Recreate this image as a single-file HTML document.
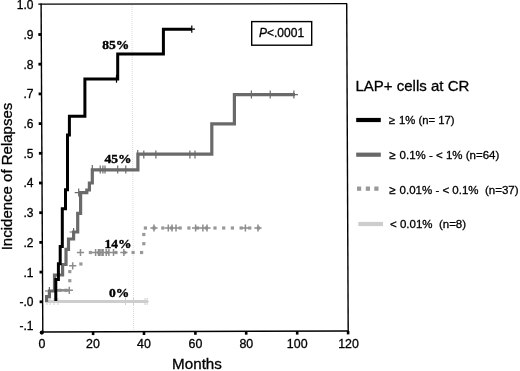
<!DOCTYPE html>
<html><head><meta charset="utf-8">
<style>
html,body{margin:0;padding:0;background:#fff;}
body{width:520px;height:371px;overflow:hidden;}
svg{display:block;will-change:transform;filter:blur(0.35px);}
text{font-family:"Liberation Sans",sans-serif;fill:#000;stroke:#000;stroke-width:0.3px;}
.b{font-family:"Liberation Serif",serif;font-weight:bold;font-size:13.5px;fill:#000;stroke:#000;stroke-width:0.4px;}
.t{font-size:12.4px;}
</style></head><body>
<svg width="520" height="371" viewBox="0 0 520 371">
<rect width="520" height="371" fill="#fff"/>
<!-- reference dotted line at 36 months -->
<line x1="131.9" y1="5" x2="133.6" y2="331" stroke="#dcdcdc" stroke-width="1" stroke-dasharray="1 1"/>
<!-- frame -->
<g stroke="#000" fill="none">
<line x1="41.1" y1="3.6" x2="42.8" y2="332.6" stroke-width="1.4"/>
<line x1="38.3" y1="4.2" x2="347" y2="3.6" stroke-width="1.3"/>
<line x1="346.7" y1="3.2" x2="348.2" y2="331.6" stroke-width="1.4"/>
<line x1="41.5" y1="331.9" x2="348.4" y2="331.0" stroke-width="1.5"/>
</g>
<!-- y ticks -->
<g stroke="#000" stroke-width="2.8">
<line x1="38.3" x2="41.6" y1="34.5" y2="34.5"/>
<line x1="38.4" x2="41.7" y1="64.2" y2="64.2"/>
<line x1="38.6" x2="41.9" y1="93.9" y2="93.9"/>
<line x1="38.7" x2="42.0" y1="123.6" y2="123.6"/>
<line x1="38.9" x2="42.2" y1="153.3" y2="153.3"/>
<line x1="39.0" x2="42.3" y1="183.0" y2="183.0"/>
<line x1="39.2" x2="42.5" y1="212.7" y2="212.7"/>
<line x1="39.3" x2="42.6" y1="242.4" y2="242.4"/>
<line x1="39.5" x2="42.8" y1="272.1" y2="272.1"/>
<line x1="39.6" x2="42.9" y1="301.8" y2="301.8"/>
</g>
<circle cx="41.8" cy="332.6" r="2.1" fill="#000"/>
<!-- x ticks -->
<g stroke="#000" stroke-width="2.6">
<line x1="93.1" x2="93.1" y1="331.7" y2="335.1"/>
<line x1="144.0" x2="144.0" y1="331.6" y2="335.0"/>
<line x1="195.4" x2="195.4" y1="331.4" y2="334.8"/>
<line x1="246.2" x2="246.2" y1="331.3" y2="334.7"/>
<line x1="297.2" x2="297.2" y1="331.2" y2="334.6"/>
<line x1="348.1" x2="348.1" y1="331.0" y2="334.4"/>
</g>
<!-- y labels -->
<g class="t" text-anchor="end" style="font-size:12px">
<text x="33.5" y="9.3">1.0</text>
<text x="33.5" y="38.9">.9</text>
<text x="33.5" y="68.6">.8</text>
<text x="33.5" y="98.3">.7</text>
<text x="33.5" y="128.0">.6</text>
<text x="33.5" y="157.7">.5</text>
<text x="33.5" y="187.4">.4</text>
<text x="33.5" y="217.1">.3</text>
<text x="33.5" y="246.8">.2</text>
<text x="33.5" y="276.5">.1</text>
<text x="33.5" y="306.2">-.0</text>
<text x="33.5" y="329.6">-.1</text>
</g>
<!-- x labels -->
<g class="t" text-anchor="middle">
<text x="42" y="347.7">0</text>
<text x="93" y="347.7">20</text>
<text x="144" y="347.7">40</text>
<text x="195.5" y="347.7">60</text>
<text x="246.3" y="347.7">80</text>
<text x="297.2" y="347.7">100</text>
<text x="348.5" y="347.7">120</text>
</g>
<text x="197" y="368.8" text-anchor="middle" font-size="15.2">Months</text>
<text transform="translate(12.3,176.5) rotate(-90)" text-anchor="middle" font-size="15">Incidence of Relapses</text>

<!-- light gray (<0.01%) -->
<line x1="45" y1="301.5" x2="147.8" y2="301.5" stroke="#cdcdcd" stroke-width="3"/>
<g stroke="#cfcfcf" stroke-width="1">
<line x1="47" x2="47" y1="298" y2="305"/><line x1="50" x2="50" y1="298" y2="305"/><line x1="54" x2="54" y1="298" y2="305"/><line x1="58" x2="58" y1="298" y2="305"/>
<line x1="125.5" x2="125.5" y1="298" y2="305"/><line x1="133.5" x2="133.5" y1="298" y2="305"/><line x1="145" x2="145" y1="298" y2="305"/><line x1="147.2" x2="147.2" y1="298" y2="305"/><line x1="144" x2="149" y1="301.5" y2="301.5"/>
</g>

<!-- dotted (0.01-0.1%) -->
<g fill="#999" stroke="none">
<rect x="68.2" y="279.1" width="3.2" height="3.2"/><rect x="68.2" y="270.0" width="3.2" height="3.2"/><rect x="79.3" y="262.4" width="3.2" height="3.2"/><rect x="142.2" y="242.1" width="3.2" height="3.2"/><rect x="142.2" y="232.9" width="3.2" height="3.2"/><rect x="88.8" y="250.9" width="3.2" height="3.2"/><rect x="97.3" y="250.9" width="3.2" height="3.2"/><rect x="105.9" y="250.9" width="3.2" height="3.2"/><rect x="114.4" y="250.9" width="3.2" height="3.2"/><rect x="123.0" y="250.9" width="3.2" height="3.2"/><rect x="131.5" y="250.9" width="3.2" height="3.2"/><rect x="140.0" y="250.9" width="3.2" height="3.2"/><rect x="143.8" y="226.4" width="3.2" height="3.2"/><rect x="152.5" y="226.4" width="3.2" height="3.2"/><rect x="161.2" y="226.4" width="3.2" height="3.2"/><rect x="169.9" y="226.4" width="3.2" height="3.2"/><rect x="178.6" y="226.4" width="3.2" height="3.2"/><rect x="187.3" y="226.4" width="3.2" height="3.2"/><rect x="196.0" y="226.4" width="3.2" height="3.2"/><rect x="204.7" y="226.4" width="3.2" height="3.2"/><rect x="213.4" y="226.4" width="3.2" height="3.2"/><rect x="222.1" y="226.4" width="3.2" height="3.2"/><rect x="230.8" y="226.4" width="3.2" height="3.2"/><rect x="239.5" y="226.4" width="3.2" height="3.2"/><rect x="248.2" y="226.4" width="3.2" height="3.2"/><rect x="256.9" y="226.4" width="3.2" height="3.2"/><rect x="58.4" y="288.7" width="3.2" height="3.2"/><rect x="64.4" y="288.7" width="3.2" height="3.2"/>
</g>
<path d="M56.8 290.3H69.5" stroke="#8c8c8c" stroke-width="2.6" fill="none"/>
<g stroke="#8c8c8c" stroke-width="1.5" fill="none">
<path d="M69.3 286.7v7.2 M65.7 290.3h7.2 M72.7 262.2v7.2 M69.1 265.8h7.2 M80.5 248.9v7.2 M76.9 252.5h7.2"/>
<path d="M95.6 248.9v7.2 M92.0 252.5h7.2 M98.5 248.9v7.2 M94.9 252.5h7.2 M100.0 248.9v7.2 M96.4 252.5h7.2 M102.0 248.9v7.2 M98.4 252.5h7.2 M103.1 248.9v7.2 M99.5 252.5h7.2 M106.2 248.9v7.2 M102.6 252.5h7.2 M108.9 248.9v7.2 M105.3 252.5h7.2 M113.5 248.9v7.2 M109.9 252.5h7.2 M123.9 248.9v7.2 M120.3 252.5h7.2"/>
<path d="M154.0 224.4v7.2 M150.4 228.0h7.2 M168.3 224.4v7.2 M164.7 228.0h7.2 M172.0 224.4v7.2 M168.4 228.0h7.2 M176.0 224.4v7.2 M172.4 228.0h7.2 M195.6 224.4v7.2 M192.0 228.0h7.2 M202.9 224.4v7.2 M199.3 228.0h7.2 M207.0 224.4v7.2 M203.4 228.0h7.2 M245.4 224.4v7.2 M241.8 228.0h7.2 M258.0 224.4v7.2 M254.4 228.0h7.2"/>
</g>

<!-- dark gray (0.1-1%) -->
<path d="M45 300.5 H46.6 V296.6 H49.4 V291 H54.5 V275 H62.6 V264.5 H66 V249.4 H68.5 V239 H73.6 V232 H77.7 V213.4 H80.6 V192.6 H86.8 V190 H89.4 V183 H92.3 V169.8 H137.9 V154.2 H211.8 V123.8 H234.4 V94.7 H295" stroke="#6a6a6a" stroke-width="3.2" fill="none"/>
<g stroke="#6a6a6a" stroke-width="1.2" fill="none">
<path d="M49.4 287v8 M45 291h8"/>
<path d="M73.6 228v8 M69.6 232h8"/>
<path d="M78.7 188.6v8 M74.7 192.6h8"/>
<path d="M92.3 165v8 M100.2 165.6v8 M102.9 165.6v8 M105 165.6v8 M117.7 165.6v8 M125.8 165.6v8"/>
<path d="M137.7 150v8 M143.8 150.6v8 M155.9 150.6v8 M189.9 150.6v8 M195 150.6v8"/>
<path d="M251.4 90.6v8 M270.2 90.6v8 M293.9 90.6v8 M290 94.6h8"/>
</g>

<!-- black (>=1%) -->
<path d="M55.8 301 V279.5 H58.4 V263.7 H60.2 V246.4 H62.3 V208.7 H65.5 V189.8 H67.5 V135 H69.4 V116.2 H84.9 V78.9 H117.7 V54 H163.4 V29.2 H192" stroke="#000" stroke-width="3" fill="none"/>
<g stroke="#000" stroke-width="1.2" fill="none">
<path d="M116.5 74.7v8"/>
<path d="M191.8 25.6v7.2 M188 29.2h7"/>
</g>

<!-- percentage labels -->
<text class="b" x="102.2" y="48.6">85%</text>
<text class="b" x="104.6" y="162.8">45%</text>
<text class="b" x="104.6" y="247.5">14%</text>
<text class="b" x="109" y="297.3">0%</text>

<!-- P box -->
<rect x="251.7" y="21.6" width="60" height="23.6" fill="#fff" stroke="#000" stroke-width="1.4"/>
<text x="259" y="37" font-size="12"><tspan font-style="italic">P</tspan>&lt;.0001</text>

<!-- legend -->
<text x="355.5" y="91.2" font-size="15">LAP+ cells at CR</text>
<line x1="356.2" x2="380.8" y1="120" y2="120" stroke="#000" stroke-width="4.2"/>
<text x="388.7" y="124.1" font-size="11.3">≥<tspan dx="0.9"> 1% (n= 17)</tspan></text>
<line x1="356.2" x2="380.8" y1="154.7" y2="154.7" stroke="#686868" stroke-width="4.2"/>
<text x="389.2" y="158.7" font-size="11.5">≥<tspan dx="0.9"> 0.1% - &lt; 1% (n=64)</tspan></text>
<g fill="#999"><rect x="357" y="186.5" width="4.2" height="4.3"/><rect x="365.8" y="186.5" width="4.2" height="4.3"/><rect x="374.3" y="186.5" width="4.2" height="4.3"/></g>
<text x="389.2" y="193.6" font-size="11.5" xml:space="preserve">≥<tspan dx="0.9"> 0.01% - &lt; 0.1%  (n=37)</tspan></text>
<line x1="358.3" x2="383" y1="224" y2="224" stroke="#cdcdcd" stroke-width="4.2"/>
<text x="390" y="227.6" font-size="11.5" xml:space="preserve">&lt; 0.01%  (n=8)</text>
</svg>
</body></html>
